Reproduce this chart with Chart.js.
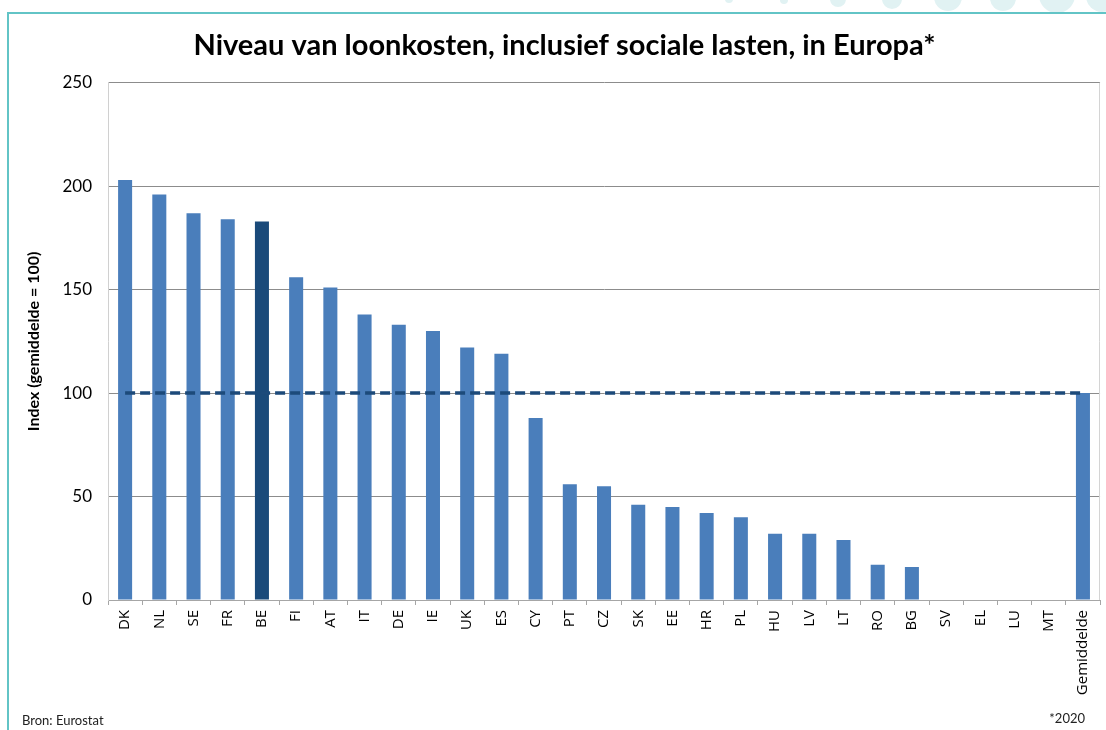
<!DOCTYPE html>
<html>
<head>
<meta charset="utf-8">
<script src="https://cdn.jsdelivr.net/npm/chart.js@4.4.0/dist/chart.umd.min.js"></script>
<style>
  html, body { margin: 0; padding: 0; background: #ffffff; }
  #wrap { position: relative; width: 1106px; height: 730px; }
</style>
</head>
<body>
<div id="wrap"><canvas id="c" width="1106" height="730"></canvas></div>
<script>
// ---- Data ----
const categories = ['DK','NL','SE','FR','BE','FI','AT','IT','DE','IE','UK','ES','CY','PT','CZ','SK','EE','HR','PL','HU','LV','LT','RO','BG','SV','EL','LU','MT','Gemiddelde'];
const indexValues = [203, 196, 187, 184, 183, 156, 151, 138, 133, 130, 122, 119, 88, 56, 55, 46, 45, 42, 40, 32, 32, 29, 17, 16, null, null, null, null, 100];
const averageLine = [{x: 'DK', y: 100}, {x: 'Gemiddelde', y: 100}];
const yTicks = [0, 50, 100, 150, 200, 250];
const highlighted = 'BE';

const titleText = 'Niveau van loonkosten, inclusief sociale lasten, in Europa*';
const yTitle = 'Index (gemiddelde = 100)';
const sourceText = 'Bron: Eurostat';
const noteText = '*2020';

const barColor = '#4a7ebb';
const highlightColor = '#1a4a7a';

const decor = {
  id: 'decor',
  beforeDraw(chart) {
    const ctx = chart.ctx;
    ctx.save();
    ctx.fillStyle = '#ffffff';
    ctx.fillRect(0, 0, chart.width, chart.height);
    // decorative circles at top right
    ctx.fillStyle = '#e1f2f3';
    const circles = [[729, -1, 4], [784, 0, 4], [838, -1, 8], [892, -1, 10], [948, -3, 14], [1003, -2, 13], [1057, -5, 18], [1102, -4, 16]];
    circles.forEach(([x, y, r]) => { ctx.beginPath(); ctx.arc(x, y, r, 0, Math.PI * 2); ctx.fill(); });
    // teal frame
    ctx.strokeStyle = '#62c4c6';
    ctx.lineWidth = 2;
    ctx.beginPath();
    ctx.moveTo(8, 730);
    ctx.lineTo(8, 13);
    ctx.lineTo(1106, 13);
    ctx.stroke();
    ctx.restore();
  },
  afterDraw(chart) {
    const ctx = chart.ctx;
    const a = chart.chartArea;
    ctx.save();
    ctx.strokeStyle = '#d4d4d4';
    ctx.lineWidth = 1;
    ctx.beginPath();
    ctx.moveTo(Math.round(a.right) - 0.5, a.top);
    ctx.lineTo(Math.round(a.right) - 0.5, a.bottom);
    ctx.stroke();
    ctx.fillStyle = '#222222';
    ctx.font = '13px Lato';
    ctx.textBaseline = 'middle';
    ctx.textAlign = 'left';
    ctx.fillText(sourceText, 22, 721);
    ctx.textAlign = 'right';
    ctx.fillText(noteText, 1085, 719);
    ctx.restore();
  }
};

new Chart(document.getElementById('c'), {
  data: {
    labels: categories,
    datasets: [
      {
        type: 'line',
        data: averageLine,
        borderColor: '#1c4a7a',
        borderWidth: 3.5,
        borderDash: [10, 5],
        pointRadius: 0,
        fill: false,
        order: 0
      },
      {
        type: 'bar',
        data: indexValues,
        backgroundColor: categories.map(c => c === highlighted ? highlightColor : barColor),
        barPercentage: 0.41,
        categoryPercentage: 1.0,
        order: 1
      }
    ]
  },
  options: {
    responsive: false,
    animation: false,
    devicePixelRatio: 1,
    layout: { padding: { left: 26, right: 3, top: 0, bottom: 0 } },
    plugins: {
      legend: { display: false },
      tooltip: { enabled: false },
      title: {
        display: true,
        text: titleText,
        color: '#000000',
        font: { family: 'Lato', size: 29, weight: 'bold', lineHeight: 1.2 },
        padding: { top: 28, bottom: 20 }
      }
    },
    scales: {
      x: {
        type: 'category',
        offset: true,
        afterFit(s) { s.height = 130; },
        grid: { display: true, drawOnChartArea: false, drawTicks: true, tickLength: 5, color: '#a6a6a6', offset: true },
        border: { display: true, color: '#a6a6a6' },
        ticks: {
          minRotation: 90, maxRotation: 90, autoSkip: false, padding: 5,
          color: '#000000',
          font: { family: 'Open Sans', size: 15 }
        }
      },
      y: {
        min: 0, max: 250,
        afterFit(s) { s.width = 82; },
        afterBuildTicks(s) { s.ticks = yTicks.map(v => ({ value: v })); },
        grid: { color: '#8c8c8c', drawTicks: false },
        border: { display: true, color: '#d0d0d0' },
        ticks: {
          padding: 16,
          color: '#000000',
          font: { family: 'Lato', size: 17 }
        },
        title: {
          display: true,
          text: yTitle,
          color: '#000000',
          font: { family: 'Lato', size: 16, weight: 'bold' },
          padding: { top: -2, bottom: 0 }
        }
      }
    }
  },
  plugins: [decor]
});
</script>
</body>
</html>
